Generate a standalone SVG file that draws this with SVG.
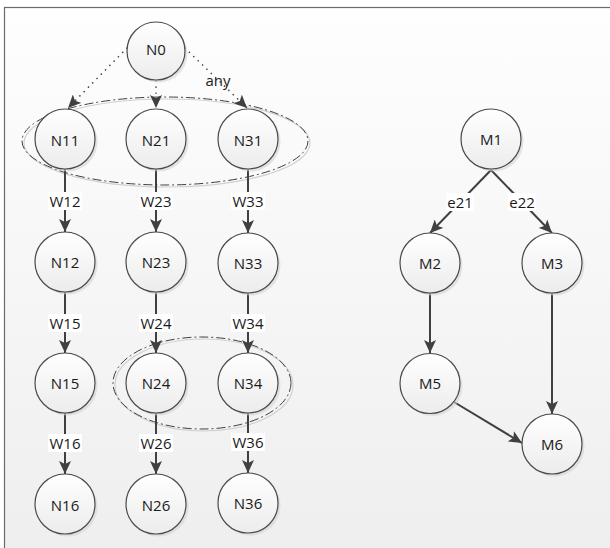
<svg xmlns="http://www.w3.org/2000/svg" width="610" height="548" viewBox="0 0 610 548">
<style>
.node circle.c{fill:url(#ng);stroke:#4a4a4a;stroke-width:1.2}
.node circle.s{fill:#d4d4d4;opacity:0.6}
.node text,.lbl text{font-family:"Open Sans","Liberation Sans",sans-serif;font-size:15px;fill:#1a1a1a;text-anchor:middle;dominant-baseline:central}
.e{stroke:#404040;stroke-width:2;fill:none;marker-end:url(#ah)}
.d{stroke:#404040;stroke-width:1.6;fill:none;stroke-dasharray:0.1 6;stroke-linecap:round;marker-end:url(#ah)}
.lbl rect{fill:#ffffff}
.grp{fill:none;stroke:#404040;stroke-width:1;stroke-dasharray:9 3 2 3}
.grps{fill:none;stroke:#d0d0d0;stroke-width:1.2}
</style>
<defs>
<linearGradient id="bg" x1="0" y1="0" x2="0" y2="1">
<stop offset="0" stop-color="#fefefe"/>
<stop offset="1" stop-color="#eeeeee"/>
</linearGradient>
<linearGradient id="ng" x1="0" y1="0" x2="0" y2="1">
<stop offset="0" stop-color="#ffffff"/>
<stop offset="1" stop-color="#ececec"/>
</linearGradient>
<marker id="ah" markerUnits="userSpaceOnUse" markerWidth="14" markerHeight="12" refX="13" refY="6" orient="auto">
<path d="M0,0 L13,6 L0,12 L3,6 Z" fill="#404040"/>
</marker>
</defs>
<rect x="0" y="0" width="610" height="548" fill="#ffffff"/>
<rect x="4.5" y="7.5" width="620" height="560" fill="url(#bg)" stroke="#6a6a6a" stroke-width="1.2"/>

<g id="groups">
<ellipse class="grps" cx="167" cy="143" rx="143" ry="44"/>
<ellipse class="grp" cx="165" cy="141" rx="143" ry="44"/>
<ellipse class="grps" cx="204" cy="385" rx="89" ry="46"/>
<ellipse class="grp" cx="202" cy="383" rx="89" ry="46"/>
</g>

<g id="connectors">
<path class="d" d="M127,48 L68,108"/>
<path class="d" d="M156,81 L156,108"/>
<path class="d" d="M185,48 L247,108"/>
<path class="e" d="M65,169 L65,232"/>
<path class="e" d="M156,169 L156,232"/>
<path class="e" d="M248,169 L248,233"/>
<path class="e" d="M65,292 L65,353"/>
<path class="e" d="M156,292 L156,353"/>
<path class="e" d="M248,293 L248,353"/>
<path class="e" d="M65,413 L65,474"/>
<path class="e" d="M156,413 L156,474"/>
<path class="e" d="M248,413 L248,473"/>
<path class="e" d="M491,170 L430,233"/>
<path class="e" d="M491,170 L552,233"/>
<path class="e" d="M430,293 L430,353"/>
<path class="e" d="M552,293 L552,414"/>
<path class="e" d="M454,402 L522,443"/>
<g class="lbl">
<text x="218" y="80">any</text>
<rect x="48" y="192" width="34" height="18"/><text x="65" y="201">W12</text>
<rect x="139" y="192" width="34" height="18"/><text x="156" y="201">W23</text>
<rect x="231" y="192" width="34" height="18"/><text x="248" y="201">W33</text>
<rect x="48" y="314" width="34" height="18"/><text x="65" y="323">W15</text>
<rect x="139" y="314" width="34" height="18"/><text x="156" y="323">W24</text>
<rect x="231" y="314" width="34" height="18"/><text x="248" y="323">W34</text>
<rect x="48" y="434" width="34" height="18"/><text x="65" y="443">W16</text>
<rect x="139" y="434" width="34" height="18"/><text x="156" y="443">W26</text>
<rect x="231" y="433" width="34" height="18"/><text x="248" y="442">W36</text>
<rect x="446" y="193" width="28" height="18"/><text x="460" y="202">e21</text>
<rect x="508" y="193" width="28" height="18"/><text x="522" y="202">e22</text>
</g>
</g>

<g id="N0" class="node"><circle class="s" cx="158.5" cy="53.5" r="29"/><circle class="c" cx="156" cy="51" r="29"/><text x="156" y="49">N0</text></g>
<g id="N11" class="node"><circle class="s" cx="67.5" cy="141.5" r="30"/><circle class="c" cx="65" cy="139" r="30"/><text x="65" y="140">N11</text></g>
<g id="N21" class="node"><circle class="s" cx="158.5" cy="141.5" r="30"/><circle class="c" cx="156" cy="139" r="30"/><text x="156" y="140">N21</text></g>
<g id="N31" class="node"><circle class="s" cx="250.5" cy="141.5" r="30"/><circle class="c" cx="248" cy="139" r="30"/><text x="248" y="140">N31</text></g>
<g id="N12" class="node"><circle class="s" cx="67.5" cy="264.5" r="30"/><circle class="c" cx="65" cy="262" r="30"/><text x="65" y="262">N12</text></g>
<g id="N23" class="node"><circle class="s" cx="158.5" cy="264.5" r="30"/><circle class="c" cx="156" cy="262" r="30"/><text x="156" y="262">N23</text></g>
<g id="N33" class="node"><circle class="s" cx="250.5" cy="265.5" r="30"/><circle class="c" cx="248" cy="263" r="30"/><text x="248" y="263">N33</text></g>
<g id="N15" class="node"><circle class="s" cx="67.5" cy="385.5" r="30"/><circle class="c" cx="65" cy="383" r="30"/><text x="65" y="383">N15</text></g>
<g id="N24" class="node"><circle class="s" cx="158.5" cy="385.5" r="30"/><circle class="c" cx="156" cy="383" r="30"/><text x="156" y="383">N24</text></g>
<g id="N34" class="node"><circle class="s" cx="250.5" cy="385.5" r="30"/><circle class="c" cx="248" cy="383" r="30"/><text x="248" y="383">N34</text></g>
<g id="N16" class="node"><circle class="s" cx="67.5" cy="506.5" r="30"/><circle class="c" cx="65" cy="504" r="30"/><text x="65" y="505">N16</text></g>
<g id="N26" class="node"><circle class="s" cx="158.5" cy="506.5" r="30"/><circle class="c" cx="156" cy="504" r="30"/><text x="156" y="505">N26</text></g>
<g id="N36" class="node"><circle class="s" cx="250.5" cy="505.5" r="30"/><circle class="c" cx="248" cy="503" r="30"/><text x="248" y="503">N36</text></g>
<g id="M1" class="node"><circle class="s" cx="493.5" cy="141.5" r="30"/><circle class="c" cx="491" cy="139" r="30"/><text x="491" y="139">M1</text></g>
<g id="M2" class="node"><circle class="s" cx="432.5" cy="265.5" r="30"/><circle class="c" cx="430" cy="263" r="30"/><text x="430" y="263">M2</text></g>
<g id="M3" class="node"><circle class="s" cx="554.5" cy="265.5" r="30"/><circle class="c" cx="552" cy="263" r="30"/><text x="552" y="263">M3</text></g>
<g id="M5" class="node"><circle class="s" cx="432.5" cy="386" r="30"/><circle class="c" cx="430" cy="383.5" r="30"/><text x="430" y="383">M5</text></g>
<g id="M6" class="node"><circle class="s" cx="554.5" cy="446.5" r="30"/><circle class="c" cx="552" cy="444" r="30"/><text x="552" y="444">M6</text></g>
</svg>
